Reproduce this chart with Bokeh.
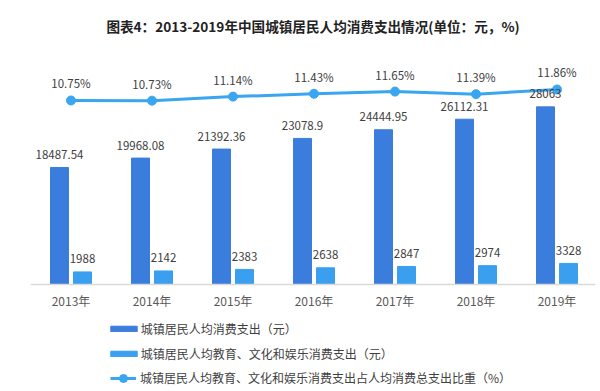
from bokeh.plotting import figure
from bokeh.models import Range1d, FixedTicker, ColumnDataSource, Legend, LegendItem
from bokeh.embed import file_html
from bokeh.resources import INLINE

years = ["2013年", "2014年", "2015年", "2016年", "2017年", "2018年", "2019年"]
consumption = [18487.54, 19968.08, 21392.36, 23078.9, 24444.95, 26112.31, 28063]
consumption_labels = ["18487.54", "19968.08", "21392.36", "23078.9", "24444.95", "26112.31", "28063"]
education = [1988, 2142, 2383, 2638, 2847, 2974, 3328]
share = [10.75, 10.73, 11.14, 11.43, 11.65, 11.39, 11.86]
share_labels = ["10.75%", "10.73%", "11.14%", "11.43%", "11.65%", "11.39%", "11.86%"]

FONT = "Noto Sans CJK SC"
DARK = "#3b7ddd"
LIGHT = "#3a9fee"
LINE = "#3aa5f0"

idx = list(range(len(years)))
off = 0.142
src = ColumnDataSource(dict(
    x=idx,
    xd=[i - off for i in idx],
    xl=[i + off for i in idx],
    cons=consumption, cons_lbl=consumption_labels,
    edu=education, edu_lbl=[str(v) for v in education],
    share=share, share_lbl=share_labels,
))

p = figure(width=600, height=391, output_backend="svg", toolbar_location=None,
           x_range=Range1d(-0.5, 6.475), y_range=Range1d(-16904, 37283),
           y_axis_location=None, min_border_left=30, min_border_right=5,
           min_border_top=48, min_border_bottom=0,
           title="图表4：2013-2019年中国城镇居民人均消费支出情况(单位：元，%)")
p.extra_y_ranges = {"pct": Range1d(-18.64, 16.0)}
p.title.align = "center"
p.title.text_font = FONT
p.title.text_font_size = "13.6px"
p.title.text_font_style = "bold"
p.title.text_color = "#222222"
p.title.standoff = 26
p.outline_line_color = None
p.xgrid.visible = False
p.ygrid.visible = False

bw = 0.222
r1 = p.vbar(x="xd", top="cons", width=bw, source=src, color=DARK)
r2 = p.vbar(x="xl", top="edu", width=bw, source=src, color=LIGHT)
r3 = p.line(x="x", y="share", source=src, y_range_name="pct", line_color=LINE, line_width=3)
r4 = p.scatter(x="x", y="share", source=src, y_range_name="pct", size=9, color=LINE)

lbl = dict(text_font_size="11.5px", text_color="#404040", text_align="center",
           text_baseline="middle", text_font={"value": FONT})
p.text(x="xd", y="cons", text="cons_lbl", source=src, y_offset=-13, **lbl)
p.text(x="xl", y="edu", text="edu_lbl", source=src, y_offset=-13, **lbl)
p.text(x="x", y="share", text="share_lbl", source=src, y_range_name="pct", y_offset=-17, **lbl)

ax = p.xaxis[0]
ax.fixed_location = 0
ax.ticker = FixedTicker(ticks=idx)
ax.major_label_overrides = {i: years[i] for i in idx}
ax.axis_line_color = "#d9d9d9"
ax.axis_line_width = 1.5
ax.major_tick_line_color = None
ax.major_tick_out = 0
ax.major_tick_in = 0
ax.minor_tick_line_color = None
ax.major_label_standoff = 8
ax.major_label_text_font = FONT
ax.major_label_text_font_size = "12px"
ax.major_label_text_color = "#595959"

common = dict(border_line_color=None, background_fill_alpha=0, padding=0, margin=0,
              label_text_font=FONT, label_text_font_size="12px", label_text_color="#404040")
leg1 = Legend(items=[LegendItem(label="城镇居民人均消费支出（元）", renderers=[r1]),
                     LegendItem(label="城镇居民人均教育、文化和娱乐消费支出（元）", renderers=[r2])],
              location=(76.7, 28), glyph_width=33, glyph_height=7, label_height=20,
              spacing=5, label_standoff=1, **common)
leg2 = Legend(items=[LegendItem(label="城镇居民人均教育、文化和娱乐消费支出占人均消费总支出比重（%）", renderers=[r3, r4])],
              location=(80, 3.5), glyph_width=26, glyph_height=20, label_height=20,
              label_standoff=4, **common)
p.add_layout(leg1)
p.add_layout(leg2)

open("out.html", "w").write(file_html(p, INLINE))
